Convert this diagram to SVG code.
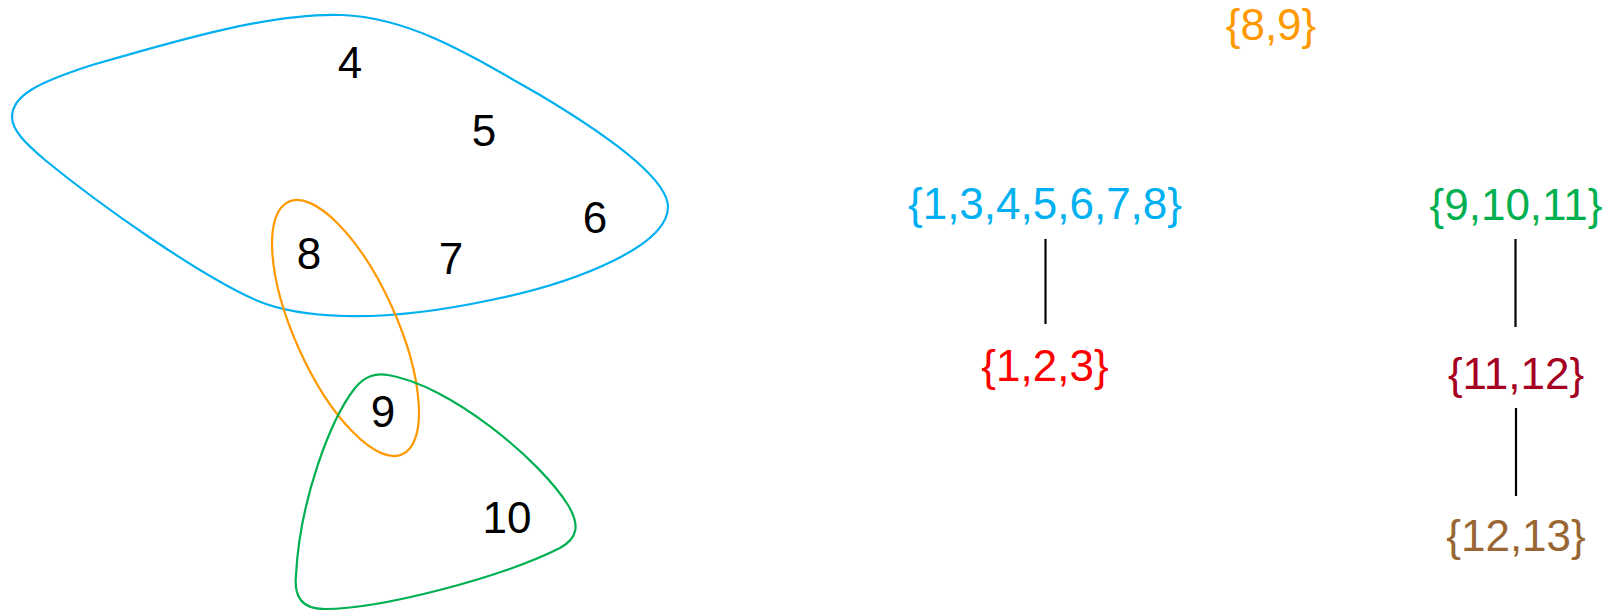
<svg xmlns="http://www.w3.org/2000/svg" width="1612" height="611" viewBox="0 0 1612 611">
<style>
text{font-family:"Liberation Sans",Arial,sans-serif;font-size:44px;text-anchor:middle}
.num{fill:#000}
.set{fill:none;stroke-width:2.2}
.edge{stroke:#000;stroke-width:2.2}
</style>
<rect width="1612" height="611" fill="#fff"/>
<g id="set-blue"><path class="set" stroke="#00B0F0" d="M12,117 C12,95 40,82 89,66 C165,44 270,12 342,15 C410,18 465,52 540,95 C612,138 668,180 668,207 C668,245 580,282 491,300 C430,313 380,317 344,316 C310,315 282,311 258,301 C200,276 100,205 45,160 C25,143 12,130 12,117 Z"/></g>
<g id="set-orange"><ellipse class="set" stroke="#FF9900" cx="345.5" cy="328" rx="51" ry="138.5" transform="rotate(-24.25 345.5 328)"/></g>
<g id="set-green"><path class="set" stroke="#00B050" d="M296,575 C300,500 330,420 355,388 C365,376 375,373 388,375 C450,385 540,460 568,505 C580,525 578,538 560,548 C500,578 380,609 325,609 C300,609 294,595 296,575 Z"/></g>
<g id="n4"><text class="num" x="350" y="78">4</text></g>
<g id="n5"><text class="num" x="484" y="146">5</text></g>
<g id="n6"><text class="num" x="595" y="233">6</text></g>
<g id="n7"><text class="num" x="451" y="274">7</text></g>
<g id="n8"><text class="num" x="309" y="269">8</text></g>
<g id="n9"><text class="num" x="383" y="427">9</text></g>
<g id="n10"><text class="num" x="507" y="533">10</text></g>
<g id="t89"><text x="1271" y="40" fill="#FF9900">{8,9}</text></g>
<g id="t1345678"><text x="1045" y="219" fill="#00B0F0">{1,3,4,5,6,7,8}</text></g>
<g id="t91011"><text x="1516" y="220" fill="#00B050">{9,10,11}</text></g>
<g id="t123"><text x="1045" y="381" fill="#FF0000">{1,2,3}</text></g>
<g id="t1112"><text x="1516" y="389" fill="#A50021">{11,12}</text></g>
<g id="t1213"><text x="1516" y="551" fill="#996633">{12,13}</text></g>
<g id="connectors">
<line class="edge" x1="1045.5" y1="239" x2="1045.5" y2="324"/>
<line class="edge" x1="1515.5" y1="239" x2="1515.5" y2="327"/>
<line class="edge" x1="1516" y1="408" x2="1516" y2="496"/>
</g>
</svg>
